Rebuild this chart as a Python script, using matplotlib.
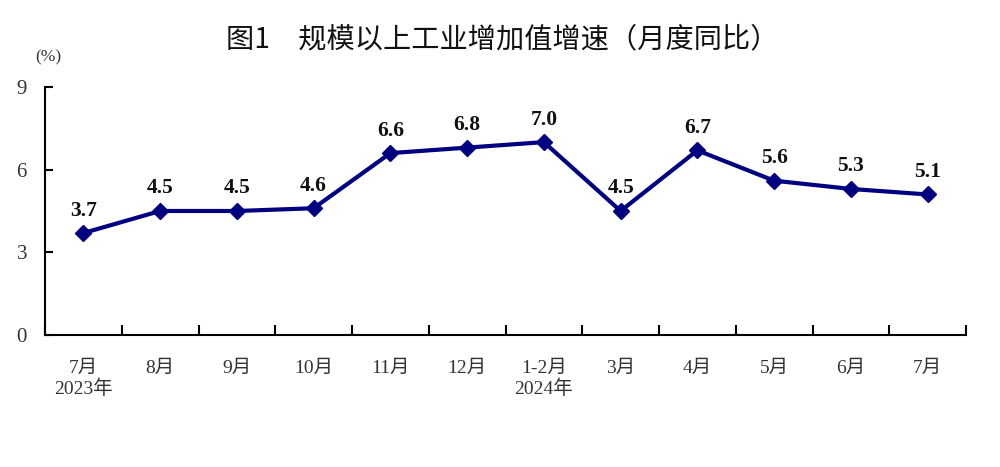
import matplotlib.pyplot as plt
import numpy as np

months = ['7月\n2023年', '8月', '9月', '10月', '11月', '12月', '1-2月\n2024年',
          '3月', '4月', '5月', '6月', '7月']
growth = [3.7, 4.5, 4.5, 4.6, 6.6, 6.8, 7.0, 4.5, 6.7, 5.6, 5.3, 5.1]

serif = ['Liberation Serif', 'Noto Sans CJK SC']
line_color = '#000080'

fig = plt.figure(figsize=(10, 4.67), dpi=100)
ax = fig.add_axes([0.045, 0.2827, 0.921, 0.531])

x = np.arange(len(growth))
ax.plot(x, growth, color=line_color, linewidth=3, marker='D', markersize=8.5,
        markerfacecolor=line_color, markeredgecolor=line_color)
for xi, v in zip(x, growth):
    ax.annotate(f'{v:.1f}', (xi, v), xytext=(0, 9), textcoords='offset points',
                ha='center', va='bottom', fontsize=15.5, fontweight='bold',
                family='Liberation Serif', color='#111111')

ax.set_xlim(-0.5, len(growth) - 0.5)
ax.set_ylim(0, 9)
ax.set_yticks([0, 3, 6, 9])
ax.set_yticklabels(['0', '3', '6', '9'], family='Liberation Serif', fontsize=15,
                   color='#333333')
ax.tick_params(axis='y', direction='in', length=6, width=1.5, pad=13)

# category boundary ticks on x axis
ax.set_xticks(np.arange(-0.5, len(growth)), minor=False)
ax.set_xticklabels([])
ax.tick_params(axis='x', which='major', direction='in', length=7, width=1.5)
ax.set_xticks(x, minor=True)
ax.set_xticklabels(months, minor=True, family=serif, fontsize=14, color='#333333',
                   linespacing=1.2, va='top')
ax.tick_params(axis='x', which='minor', length=0, pad=18)

for side in ['top', 'right']:
    ax.spines[side].set_visible(False)
for side in ['left', 'bottom']:
    ax.spines[side].set_linewidth(1.5)

fig.text(0.048, 0.868, '(%)', family=serif, fontsize=12.5, color='#333333', ha='center')
fig.text(0.502, 0.915, '图1　规模以上工业增加值增速（月度同比）', family=['Noto Sans CJK SC'],
         fontsize=20.3, ha='center', va='center', color='#111111')

fig.savefig('out.png', dpi=100)
